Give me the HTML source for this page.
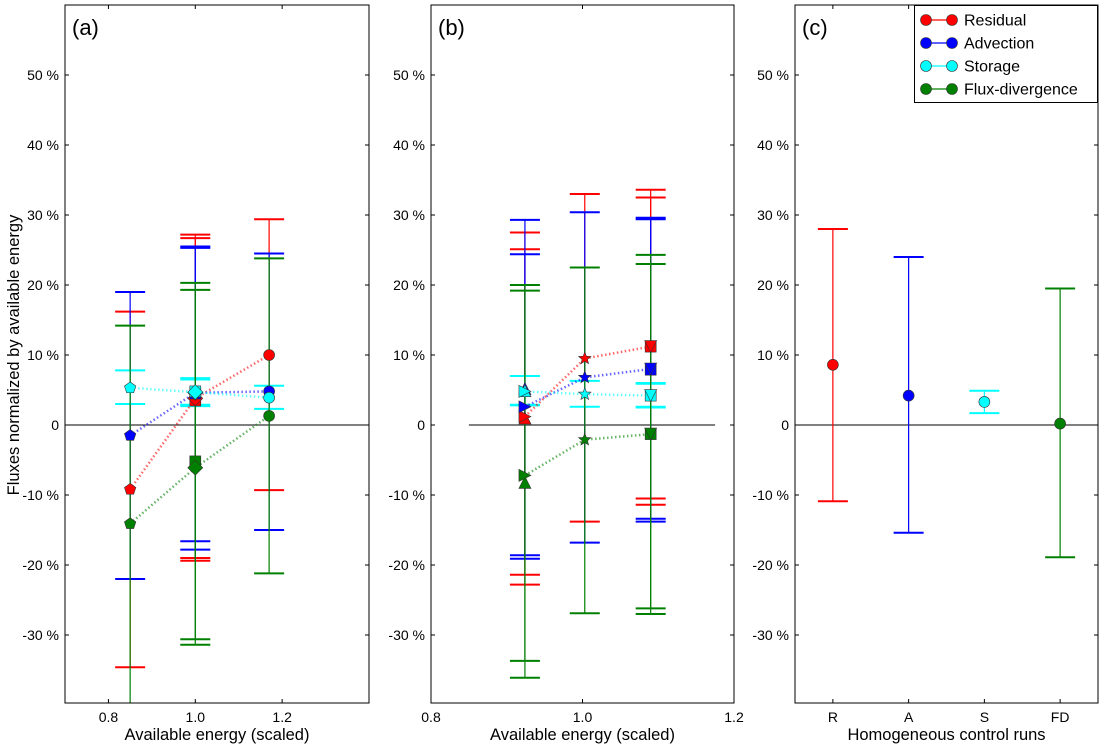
<!DOCTYPE html>
<html><head><meta charset="utf-8"><style>
html,body{margin:0;padding:0;background:#fff;}
svg{display:block;font-family:"Liberation Sans","DejaVu Sans",sans-serif;}
</style></head><body>
<svg id="chart" width="1105" height="749" viewBox="0 0 1105 749"></svg>
<script>
const seriesNames=['Residual','Advection','Storage','Flux-divergence'];
const yTicks=[-30,-20,-10,0,10,20,30,40,50];
const yTickLabels=['-30 %','-20 %','-10 %','0','10 %','20 %','30 %','40 %','50 %'];
// Panel A
const aXTicks=[0.8,1.0,1.2];
const aXTickLabels=['0.8','1.0','1.2'];
const aX=[0.85,1.0,1.0,1.17];
const aMarkers=['pentagon','square','diamond','circle'];
const aResMean=[-9.2,3.5,3.8,10.0];
const aResLo=[-34.6,-19.0,-19.4,-9.3];
const aResHi=[16.2,27.2,26.7,29.4];
const aAdvMean=[-1.5,4.5,4.6,4.8];
const aAdvLo=[-22.0,-16.6,-17.8,-15.0];
const aAdvHi=[19.0,25.5,25.3,24.5];
const aStoMean=[5.3,4.8,4.7,3.9];
const aStoLo=[3.0,2.7,2.9,2.3];
const aStoHi=[7.8,6.7,6.5,5.6];
const aFdMean=[-14.1,-5.2,-6.1,1.3];
const aFdLo=[-45.0,-30.6,-31.4,-21.2];
const aFdHi=[14.2,20.3,19.3,23.8];
const aLineIdx=[0,2,3];
// Panel B
const bXTicks=[0.8,1.0,1.2];
const bXTickLabels=['0.8','1.0','1.2'];
const bX=[0.924,0.924,1.003,1.09,1.09];
const bMarkers=['triangle-up','triangle-right','star','square','triangle-down'];
const bResMean=[1.0,1.2,9.5,11.2,11.2];
const bResLo=[-21.4,-22.8,-13.8,-11.4,-10.5];
const bResHi=[27.5,25.1,33.0,32.5,33.6];
const bAdvMean=[5.2,2.6,6.8,7.9,8.0];
const bAdvLo=[-18.6,-19.1,-16.8,-13.8,-13.4];
const bAdvHi=[29.3,24.4,30.4,29.4,29.6];
const bStoMean=[4.9,4.8,4.4,4.2,4.2];
const bStoLo=[2.9,2.8,2.6,2.5,2.6];
const bStoHi=[7.0,7.0,6.3,5.9,6.0];
const bFdMean=[-8.2,-7.2,-2.1,-1.3,-1.3];
const bFdLo=[-33.7,-36.1,-26.9,-27.0,-26.2];
const bFdHi=[20.0,19.2,22.5,23.0,24.3];
const bLineIdx=[1,2,4];
// Panel C
const cCategories=['R','A','S','FD'];
const cMean=[8.6,4.2,3.3,0.2];
const cLo=[-10.9,-15.4,1.7,-18.9];
const cHi=[28.0,24.0,4.9,19.5];

const colors=['#ff0000','#0000ff','#00ffff','#008000'];
const NS='http://www.w3.org/2000/svg';
const svg=document.getElementById('chart');
function el(tag,attrs,parent){const e=document.createElementNS(NS,tag);for(const k in attrs)e.setAttribute(k,attrs[k]);(parent||svg).appendChild(e);return e;}
const Y0=425,YS=7,TOP=5,BOT=703;
function yS(v){return Y0-YS*v;}
const panels=[
 {id:'a',x0:65,x1:369,xmin:0.7,xmax:1.4,label:'(a)'},
 {id:'b',x0:431,x1:734,xmin:0.8,xmax:1.2,label:'(b)'},
 {id:'c',x0:795,x1:1098,xmin:-0.5,xmax:3.5,label:'(c)'}
];
panels.forEach(p=>{p.xS=v=>p.x0+(v-p.xmin)/(p.xmax-p.xmin)*(p.x1-p.x0);});

function marker(g,shape,cx,cy,color){
  const r=6;let e;const st={fill:color,stroke:'#333','stroke-width':0.6};
  function poly(pts){return el('polygon',Object.assign({points:pts.map(p=>p.join(',')).join(' ')},st),g);}
  if(shape==='circle'){e=el('circle',Object.assign({cx,cy,r:5.5},st),g);}
  else if(shape==='square'){e=el('rect',Object.assign({x:cx-5.5,y:cy-5.5,width:11,height:11},st),g);}
  else if(shape==='diamond'){e=poly([[cx,cy-7.5],[cx+7.5,cy],[cx,cy+7.5],[cx-7.5,cy]]);}
  else if(shape==='pentagon'){const pts=[];for(let i=0;i<5;i++){const a=-Math.PI/2+i*2*Math.PI/5;pts.push([cx+r*Math.cos(a),cy+r*Math.sin(a)]);}e=poly(pts);}
  else if(shape==='star'){const pts=[];for(let i=0;i<10;i++){const a=-Math.PI/2+i*Math.PI/5;const rr=i%2?2.8:6.5;pts.push([cx+rr*Math.cos(a),cy+rr*Math.sin(a)]);}e=poly(pts);}
  else if(shape==='triangle-up'){e=poly([[cx,cy-r],[cx+r,cy+r],[cx-r,cy+r]]);}
  else if(shape==='triangle-down'){e=poly([[cx,cy+r],[cx+r,cy-r],[cx-r,cy-r]]);}
  else if(shape==='triangle-right'){e=poly([[cx+r,cy],[cx-r,cy-r],[cx-r,cy+r]]);}
  return e;
}

const defs=el('defs',{});
panels.forEach(p=>{const c=el('clipPath',{id:'clip-'+p.id},defs);el('rect',{x:p.x0,y:TOP,width:p.x1-p.x0,height:BOT-TOP},c);});

function errorbar(g,xs,y,lo,hi,color){
  el('line',{x1:xs,x2:xs,y1:yS(hi),y2:yS(lo),stroke:color,'stroke-width':1.2},g);
  el('line',{x1:xs-15,x2:xs+15,y1:yS(hi),y2:yS(hi),stroke:color,'stroke-width':2},g);
  el('line',{x1:xs-15,x2:xs+15,y1:yS(lo),y2:yS(lo),stroke:color,'stroke-width':2},g);
}

function drawXY(p,g,xs,means,los,his,markers,lineIdx){
  means.forEach((m,si)=>{
    const eg=el('g',{},g);
    
    
    xs.forEach((x,i)=>errorbar(eg,p.xS(x),m[i],los[si][i],his[si][i],colors[si]));
  });
  means.forEach((m,si)=>{
    const pts=lineIdx.map(i=>p.xS(xs[i])+','+yS(m[i])).join(' ');
    const l=el('polyline',{points:pts,fill:'none',stroke:colors[si],'stroke-width':2.5,'stroke-dasharray':'1.5,2.5','stroke-opacity':0.6},g);
    
    
  });
  means.forEach((m,si)=>{
    xs.forEach((x,i)=>{
      const mk=marker(g,markers[i],p.xS(x),yS(m[i]),colors[si]);
      
      
    });
  });
}

panels.forEach((p,pi)=>{
  const pg=el('g',{});
  
  
  const g=el('g',{'clip-path':'url(#clip-'+p.id+')'},pg);
  if(p.id==='b'){el('line',{x1:p.xS(0.85),x2:p.xS(1.175),y1:yS(0),y2:yS(0),stroke:'#000','stroke-width':1},g);}
  else el('line',{x1:p.x0,x2:p.x1,y1:yS(0),y2:yS(0),stroke:'#000','stroke-width':1},g);
  if(p.id==='a') drawXY(p,g,aX,[aResMean,aAdvMean,aStoMean,aFdMean],[aResLo,aAdvLo,aStoLo,aFdLo],[aResHi,aAdvHi,aStoHi,aFdHi],aMarkers,aLineIdx);
  if(p.id==='b') drawXY(p,g,bX,[bResMean,bAdvMean,bStoMean,bFdMean],[bResLo,bAdvLo,bStoLo,bFdLo],[bResHi,bAdvHi,bStoHi,bFdHi],bMarkers,bLineIdx);
  if(p.id==='c'){
    cCategories.forEach((c,i)=>{
      const eg=el('g',{},g);
      
      
      errorbar(eg,p.xS(i),cMean[i],cLo[i],cHi[i],colors[i]);
      const mk=marker(eg,'circle',p.xS(i),yS(cMean[i]),colors[i]);
      
      
    });
  }
  const fr=el('rect',{x:p.x0,y:TOP,width:p.x1-p.x0,height:BOT-TOP,fill:'none',stroke:'#000','stroke-width':1},pg);
  
  
  yTicks.forEach((t,i)=>{
    const y=yS(t);
    el('line',{x1:p.x0,x2:p.x0+4,y1:y,y2:y,stroke:'#000'},pg);
    el('line',{x1:p.x1,x2:p.x1-4,y1:y,y2:y,stroke:'#000'},pg);
    const tx=el('text',{x:p.x0-6,y:y+5,'text-anchor':'end','font-size':14},pg);
    tx.textContent=yTickLabels[i];
    
    
  });
  let xt,xl;
  if(p.id==='a'){xt=aXTicks;xl=aXTickLabels;} else if(p.id==='b'){xt=bXTicks;xl=bXTickLabels;} else {xt=cCategories.map((c,i)=>i);xl=cCategories;}
  xt.forEach((t,i)=>{
    const x=p.xS(t);
    el('line',{x1:x,x2:x,y1:BOT,y2:BOT-4,stroke:'#000'},pg);
    el('line',{x1:x,x2:x,y1:TOP,y2:TOP+4,stroke:'#000'},pg);
    const tx=el('text',{x:x,y:BOT+19,'text-anchor':'middle','font-size':14},pg);
    tx.textContent=xl[i];
    
    
  });
  const xlab=el('text',{x:(p.x0+p.x1)/2,y:740,'text-anchor':'middle','font-size':16.5},pg);
  xlab.textContent=p.id==='c'?'Homogeneous control runs':'Available energy (scaled)';
  
  
  const pl=el('text',{x:p.x0+7,y:35,'font-size':22},pg);
  pl.textContent=p.label;
  
  
});

const yl=el('text',{x:0,y:0,'text-anchor':'middle','font-size':16.5,transform:'translate(19,355) rotate(-90)'});
yl.textContent='Fluxes normalized by available energy';



const lg=el('g',{});


el('rect',{x:914.5,y:5.5,width:183,height:97,fill:'#fff',stroke:'#000','stroke-width':1},lg);
seriesNames.forEach((n,i)=>{
  const y=20+i*23;
  const eg=el('g',{},lg);
  
  
  el('line',{x1:926,x2:952,y1:y,y2:y,stroke:colors[i],'stroke-width':1.2},eg);
  marker(eg,'circle',926,y,colors[i]);
  marker(eg,'circle',952,y,colors[i]);
  const t=el('text',{x:964,y:y+5.5,'font-size':16},eg);
  t.textContent=n;
});
</script>
</body></html>
